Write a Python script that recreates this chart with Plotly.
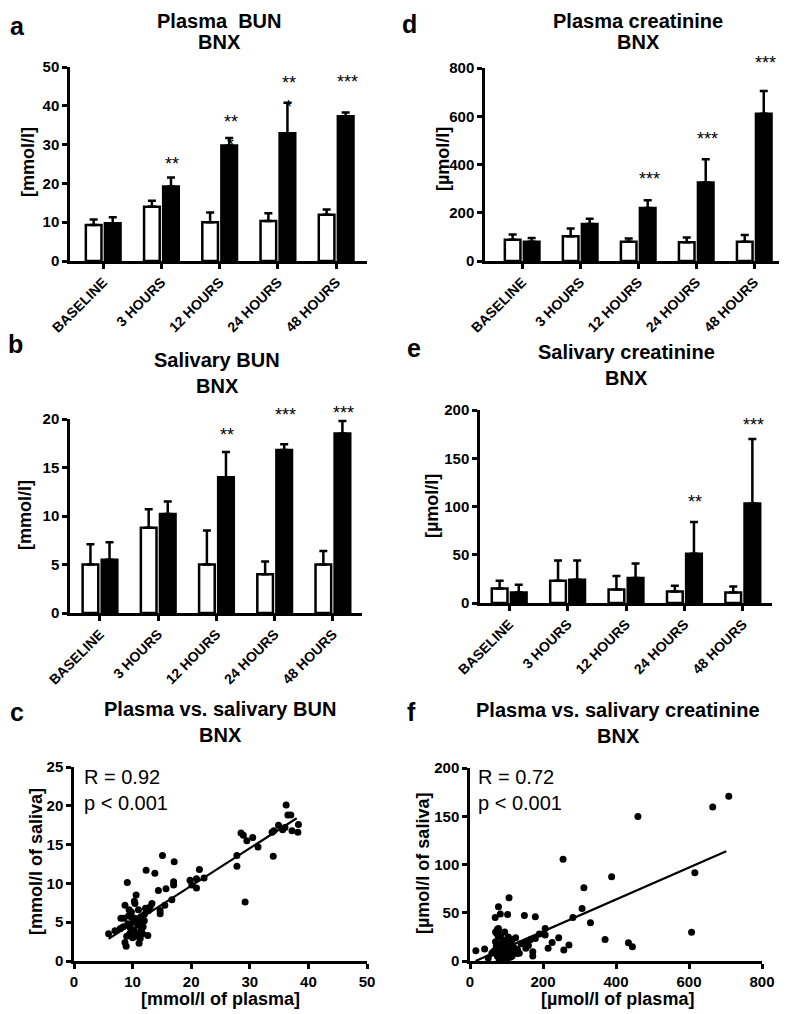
import plotly.graph_objects as go

FONT = "Arial, Liberation Sans, Helvetica, sans-serif"
PAGE_W, PAGE_H = 787, 1014
OFF = 8  # the page body adds an 8px margin; the figure is laid out in page pixels
W, H = PAGE_W - OFF, PAGE_H - OFF

categories = ["BASELINE", "3 HOURS", "12 HOURS", "24 HOURS", "48 HOURS"]

# Panel a: Plasma BUN [mmol/l]
a_white = [9.3, 14.0, 10.0, 10.3, 11.9]
a_white_sd = [1.4, 1.5, 2.5, 2.0, 1.4]
a_black = [9.7, 19.2, 29.8, 32.9, 37.3]
a_black_sd = [1.6, 2.3, 1.9, 7.9, 1.0]
a_stars = ["", "**", "**", "**", "***"]
a_star_y = [None, 26.2, 37.2, 47.1, 47.5]
a_stars2 = ["", "", "*", "*", ""]
a_star2_y = [None, None, 31.3, 41.0, None]

# Panel d: Plasma creatinine [µmol/l]
d_white = [88, 103, 80, 78, 80]
d_white_sd = [22, 32, 13, 19, 28]
d_black = [80, 153, 220, 325, 610]
d_black_sd = [15, 22, 32, 97, 95]
d_stars = ["", "", "***", "***", "***"]
d_star_y = [None, None, 361, 526, 841]

# Panel b: Salivary BUN [mmol/l]
b_white = [5.0, 8.8, 5.0, 4.0, 5.0]
b_white_sd = [2.1, 1.9, 3.5, 1.3, 1.4]
b_black = [5.5, 10.2, 14.0, 16.8, 18.5]
b_black_sd = [1.8, 1.3, 2.6, 0.6, 1.3]
b_stars = ["", "", "**", "***", "***"]
b_star_y = [None, None, 18.9, 20.9, 21.1]

# Panel e: Salivary creatinine [µmol/l]
e_white = [15, 23, 14, 12, 11]
e_white_sd = [8, 21, 14, 6, 6]
e_black = [11, 24, 26, 51, 103]
e_black_sd = [8, 20, 15, 33, 67]
e_stars = ["", "", "", "**", "***"]
e_star_y = [None, None, None, 110, 190]

# Panel c: plasma vs salivary BUN
c_x = [5.9, 7.0, 7.9, 8.5, 8.7, 8.7, 8.9, 9.1, 9.2, 9.3, 9.5, 9.6, 9.8, 10.0, 10.1,
       10.2, 10.4, 10.4, 10.6, 10.8, 10.9, 11.0, 11.1, 11.3, 11.4, 11.5, 11.8, 12.0,
       12.2, 12.3, 12.6, 12.7, 13.0, 13.3, 13.8, 14.4, 14.7, 14.7, 15.1, 15.5, 15.7,
       16.7, 17.0, 17.0, 17.1, 19.8, 20.1, 20.9, 20.9, 21.4, 22.2, 27.8, 27.8, 28.5,
       28.9, 29.2, 29.5, 30.5, 31.4, 34.0, 34.1, 34.9, 35.6, 36.2, 36.5, 37.0, 37.2,
       38.2, 38.3, 36.0, 33.8, 8.4, 9.0, 9.9, 10.5, 11.2, 11.7, 12.0, 8.0, 9.4, 10.3]
c_y = [3.5, 3.9, 4.2, 5.5, 7.2, 2.4, 1.9, 10.1, 4.8, 5.8, 3.5, 4.3, 6.3, 3.0, 5.0,
       4.0, 7.4, 5.5, 8.5, 3.6, 4.6, 6.6, 2.3, 2.9, 5.7, 4.0, 4.4, 5.2,
       6.8, 11.7, 3.3, 6.5, 7.0, 7.4, 11.3, 9.1, 6.5, 6.1, 13.6, 7.2, 9.3,
       7.9, 9.8, 10.2, 12.8, 10.4, 9.8, 9.4, 10.6, 11.8, 10.7, 13.6, 12.2, 16.5,
       16.2, 7.6, 15.5, 15.9, 14.7, 13.5, 16.8, 17.5, 16.9, 20.1, 18.8, 18.8, 16.8,
       16.6, 17.6, 17.2, 16.6, 4.4, 3.2, 5.6, 3.2, 5.0, 3.5, 6.0, 5.5, 6.6, 7.7]
c_fit_x = [5.9, 38.0]
c_fit_y = [2.85, 18.4]

# Panel f: plasma vs salivary creatinine
f_x = [709, 665, 460, 255, 388, 312, 616, 607, 307, 282, 330, 370, 434, 445, 107,
       78, 69, 83, 103, 149, 179, 206, 206, 243, 225, 214, 271, 257, 172, 172, 179,
       16, 40, 78, 73, 151, 153, 128, 96,
       65, 70, 72, 75, 78, 80, 82, 85, 88, 90, 92, 95, 98, 100, 102, 105, 108, 110,
       112, 115, 118, 120, 125, 130, 135, 70, 85, 95, 100, 80, 60, 115, 140, 160,
       165, 190, 50, 75]
f_y = [170.7, 159.7, 149.7, 105.5, 87.2, 75.9, 91.4, 29.7, 54.5, 45.2, 39.7, 22.4,
       19.0, 14.8, 65.5, 56.2, 45.2, 48.6, 48.3, 47.2, 45.9, 33.8, 26.9, 24.1, 19.3,
       13.1, 16.6, 11.4, 9.7, 5.2, 23.4,
       10.7, 12.4, 33.8, 28.6, 18.3, 13.1, 7.9, 1.0,
       10, 20, 15, 5, 25, 12, 8, 18, 3, 22, 14, 10, 6, 20, 15, 25, 11, 4,
       18, 22, 9, 14, 24, 12, 8, 30, 28, 30, 2, 0.5, 8, 5, 18, 16,
       22, 28, 3, 33]
f_fit_x = [15, 702]
f_fit_y = [0, 113.8]


def fx(px):
    return (px - OFF) / W


def fy(py):
    return 1 - (py - OFF) / H


def axis_common(**kw):
    d = dict(showline=True, linecolor="black", linewidth=2.5, ticks="outside",
             ticklen=5, tickwidth=2.5, tickcolor="black", showgrid=False,
             zeroline=False, fixedrange=True, automargin=False,
             tickfont=dict(family=FONT, size=15, color="black", weight="bold"))
    d.update(kw)
    return d


fig = go.Figure()

bar_panels = [
    (1, a_white, a_white_sd, a_black, a_black_sd),
    (2, d_white, d_white_sd, d_black, d_black_sd),
    (3, b_white, b_white_sd, b_black, b_black_sd),
    (4, e_white, e_white_sd, e_black, e_black_sd),
]

for idx, wv, wsd, bv, bsd in bar_panels:
    xa = "x" if idx == 1 else f"x{idx}"
    ya = "y" if idx == 1 else f"y{idx}"
    for vals, sd, col in [(wv, wsd, "white"), (bv, bsd, "black")]:
        fig.add_trace(go.Bar(
            x=categories, y=vals, xaxis=xa, yaxis=ya,
            marker=dict(color=col, line=dict(color="black", width=2.5)),
            error_y=dict(type="data", array=sd, arrayminus=[0] * len(sd),
                         symmetric=False, color="black", thickness=2.5, width=4),
            showlegend=False, hoverinfo="skip", cliponaxis=False))

for idx, sx, sy, lx, ly in [(5, c_x, c_y, c_fit_x, c_fit_y),
                            (6, f_x, f_y, f_fit_x, f_fit_y)]:
    fig.add_trace(go.Scatter(x=sx, y=sy, xaxis=f"x{idx}", yaxis=f"y{idx}",
                             mode="markers", marker=dict(color="black", size=7),
                             showlegend=False, hoverinfo="skip", cliponaxis=False))
    fig.add_trace(go.Scatter(x=lx, y=ly, xaxis=f"x{idx}", yaxis=f"y{idx}",
                             mode="lines", line=dict(color="black", width=2.2),
                             showlegend=False, hoverinfo="skip", cliponaxis=False))

cat_tick = dict(tickangle=-45, type="category",
                tickfont=dict(family=FONT, size=14, color="black", weight="bold"))

# pixel boxes (left, right, top, bottom) in page pixels, and ranges for each panel
boxes = {
    1: ((70, 367, 67, 261), [-0.57, 4.53], [0, 50], 10),
    2: ((485, 785, 68, 261), [-0.64, 4.53], [0, 800], 200),
    3: ((70, 362, 419, 613), [-0.515, 4.5], [0, 20], 5),
    4: ((480, 772, 410, 603), [-0.5, 4.5], [0, 200], 50),
    5: ((74, 367, 767, 961), [0, 50], [0, 25], 5),
    6: ((470, 762, 768, 961), [0, 800], [0, 200], 50),
}
xdt = {5: 10, 6: 200}

layout = dict(
    width=W, height=H, margin=dict(l=0, r=0, t=0, b=0),
    paper_bgcolor="white", plot_bgcolor="white",
    barmode="group", bargap=0.345, bargroupgap=0.18,
    font=dict(family=FONT, color="black"),
)
for idx, ((l, r, t, b), xr, yr, ydt) in boxes.items():
    sx = "" if idx == 1 else str(idx)
    if idx <= 4:
        xa = axis_common(domain=[fx(l), fx(r)], range=xr, anchor="y" + sx, **cat_tick)
    else:
        xa = axis_common(domain=[fx(l), fx(r)], range=xr, dtick=xdt[idx], anchor="y" + sx)
    ya = axis_common(domain=[fy(b), fy(t)], range=yr, dtick=ydt, anchor="x" + sx)
    layout["xaxis" + sx] = xa
    layout["yaxis" + sx] = ya
fig.update_layout(**layout)

ann = []


def paper_text(text, px, py, size, bold=True, angle=0, xanchor="center"):
    ann.append(dict(text=text, x=fx(px), y=fy(py), xref="paper", yref="paper",
                    showarrow=False, xanchor=xanchor, yanchor="middle",
                    textangle=angle, borderpad=0,
                    font=dict(family=FONT, size=size, color="black",
                              weight="bold" if bold else "normal")))


for letter, px, py in [("a", 17, 26), ("d", 409, 24), ("b", 16, 344),
                       ("e", 414, 348), ("c", 17, 712), ("f", 412, 712)]:
    paper_text(letter, px, py, 25)

# titles: (line1, line2, x-centre, y of line1, y of line2)
for l1, l2, px, py1, py2 in [("Plasma\u00a0 BUN", "BNX", 219, 21, 42),
                             ("Plasma creatinine", "BNX", 638, 21, 42),
                             ("Salivary BUN", "BNX", 217, 360, 386),
                             ("Salivary creatinine", "BNX", 626, 352, 378),
                             ("Plasma vs. salivary BUN", "BNX", 220, 709, 735),
                             ("Plasma vs. salivary creatinine", "BNX", 618, 710, 736)]:
    paper_text(l1, px, py1, 20)
    paper_text(l2, px, py2, 20)

for t, px, py in [("[mmol/l]", 28, 162), ("[µmol/l]", 443, 159),
                  ("[mmol/l]", 25, 515), ("[µmol/l]", 432, 506),
                  ("[mmol/l of saliva]", 36, 862), ("[µmol/l of saliva]", 423, 864)]:
    paper_text(t, px, py, 18, angle=-90)
paper_text("[mmol/l of plasma]", 220, 999, 18)
paper_text("[µmol/l of plasma]", 617, 999, 18)

paper_text("R = 0.92", 83, 777, 20, bold=False, xanchor="left")
paper_text("p &lt; 0.001", 83, 803, 20, bold=False, xanchor="left")
paper_text("R = 0.72", 477, 777, 20, bold=False, xanchor="left")
paper_text("p &lt; 0.001", 477, 803, 20, bold=False, xanchor="left")


def to_paper_y(idx, v):
    (l, r, t, b), xr, yr, _ = boxes[idx]
    frac = (v - yr[0]) / (yr[1] - yr[0])
    return fy(b) + frac * (fy(t) - fy(b))


for idx, stars, sy in [(1, a_stars, a_star_y), (1, a_stars2, a_star2_y),
                       (2, d_stars, d_star_y), (3, b_stars, b_star_y),
                       (4, e_stars, e_star_y)]:
    xr = "x" if idx == 1 else f"x{idx}"
    for cat, s, yv in zip(categories, stars, sy):
        if s:
            ann.append(dict(text=s, x=cat, y=to_paper_y(idx, yv), xref=xr, yref="paper",
                            showarrow=False, xanchor="center", yanchor="middle",
                            xshift=11, yshift=-5,
                            font=dict(family=FONT, size=18, color="black")))

fig.update_layout(annotations=ann)
fig.write_html("out.html")
